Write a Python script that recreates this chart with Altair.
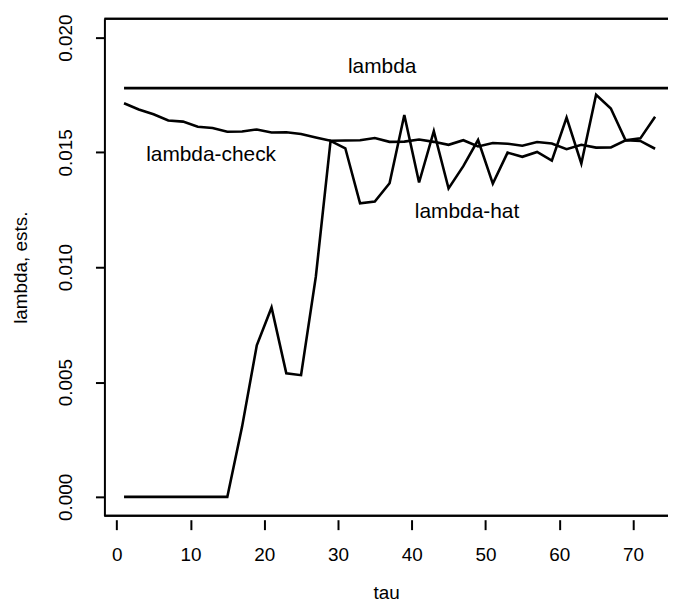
import altair as alt
import pandas as pd

# ---- data ----
tau = list(range(1, 75, 2))  # 1, 3, ..., 73

lambda_hat = [0.0, 0.0, 0.0, 0.0, 0.0, 0.0, 0.0, 0.0,
              0.00305, 0.00660, 0.00825, 0.00538, 0.00530, 0.00958, 0.01550,
              0.01518, 0.01278, 0.01286, 0.01366, 0.01663, 0.01369, 0.01593,
              0.01343, 0.01440, 0.01554, 0.01364, 0.01499, 0.01481, 0.01502,
              0.01464, 0.01652, 0.01452, 0.01751, 0.01691, 0.01553, 0.01561,
              0.01655]

lambda_check = [0.01714, 0.01687, 0.01666, 0.01639, 0.01634, 0.01612, 0.01606,
                0.01590, 0.01591, 0.01600, 0.01587, 0.01588, 0.01580, 0.01565,
                0.01551, 0.01552, 0.01553, 0.01563, 0.01546, 0.01547, 0.01556,
                0.01546, 0.01533, 0.01553, 0.01526, 0.01541, 0.01538, 0.01529,
                0.01545, 0.01539, 0.01514, 0.01533, 0.01521, 0.01522, 0.01553,
                0.01550, 0.01516]

lambda_tau = [1, 75]
lambda_val = [0.0178, 0.0178]

label_text = ["lambda", "lambda-check", "lambda-hat"]
label_tau = [36.0, 12.8, 47.5]
label_val = [0.0187, 0.0149, 0.0124]

x_ticks = [0, 10, 20, 30, 40, 50, 60, 70]
y_ticks = [0.000, 0.005, 0.010, 0.015, 0.020]

x_domain = [-1.66, 74.75]
y_domain = [-0.00082, 0.02082]

# ---- tables ----
df_hat = pd.DataFrame({"tau": tau, "v": lambda_hat})
df_check = pd.DataFrame({"tau": tau, "v": lambda_check})
df_lam = pd.DataFrame({"tau": lambda_tau, "v": lambda_val})
df_lab = pd.DataFrame({"t": label_text, "tau": label_tau, "v": label_val})

W, H = 567, 500
FONT = "Liberation Sans"

xs = alt.Scale(domain=x_domain, nice=False, zero=False)
ys = alt.Scale(domain=y_domain, nice=False, zero=False)

x_enc = alt.X("tau:Q", scale=xs, title="tau",
              axis=alt.Axis(values=x_ticks, format="d", domain=False, grid=False,
                            offset=4, tickSize=10, tickWidth=2, tickColor="black",
                            labelPadding=16, labelFontSize=19, labelFont=FONT,
                            labelColor="black", labelFlush=False,
                            titleFontSize=19, titleFont=FONT, titleFontWeight="normal",
                            titleColor="black", titleY=79, titleBaseline="alphabetic"))
y_enc = alt.Y("v:Q", scale=ys, title="lambda, ests.",
              axis=alt.Axis(values=y_ticks, format=".3f", domain=True, domainColor="black",
                            domainWidth=2, grid=False, tickSize=9, tickWidth=2,
                            tickColor="black", labelAngle=270, labelAlign="center",
                            labelBaseline="bottom", labelPadding=20, labelFontSize=19,
                            labelFont=FONT, labelColor="black", labelFlush=False,
                            titleFontSize=19, titleFont=FONT, titleFontWeight="normal",
                            titleColor="black", titleAngle=270, titleX=-84, titleY=250,
                            titleAlign="center", titleBaseline="middle"))

line_style = dict(color="black", strokeWidth=2.6, clip=True)

hat = alt.Chart(df_hat).mark_line(**line_style).encode(x=x_enc, y=y_enc)
check = alt.Chart(df_check).mark_line(**line_style).encode(x="tau:Q", y="v:Q")
lam = alt.Chart(df_lam).mark_line(**line_style).encode(x="tau:Q", y="v:Q")
labels = alt.Chart(df_lab).mark_text(font=FONT, fontSize=21, color="black",
                                     align="center", baseline="middle").encode(
    x="tau:Q", y="v:Q", text="t:N")

top_rule = alt.Chart(df_lam).mark_rule(color="black", strokeWidth=2.2).encode(
    x=alt.value(0), x2=alt.value(W), y=alt.value(0))
bottom_rule = alt.Chart(df_lam).mark_rule(color="black", strokeWidth=2.2).encode(
    x=alt.value(0), x2=alt.value(W), y=alt.value(H))

chart = alt.layer(hat, check, lam, labels, top_rule, bottom_rule).properties(
    width=W, height=H,
    autosize=alt.AutoSizeParams(type="none"),
    padding={"left": 97, "top": 9, "right": 0, "bottom": 90},
    background="white",
).configure_view(stroke=None)

chart.save("out.html", embed_options={"renderer": "svg", "actions": False})
